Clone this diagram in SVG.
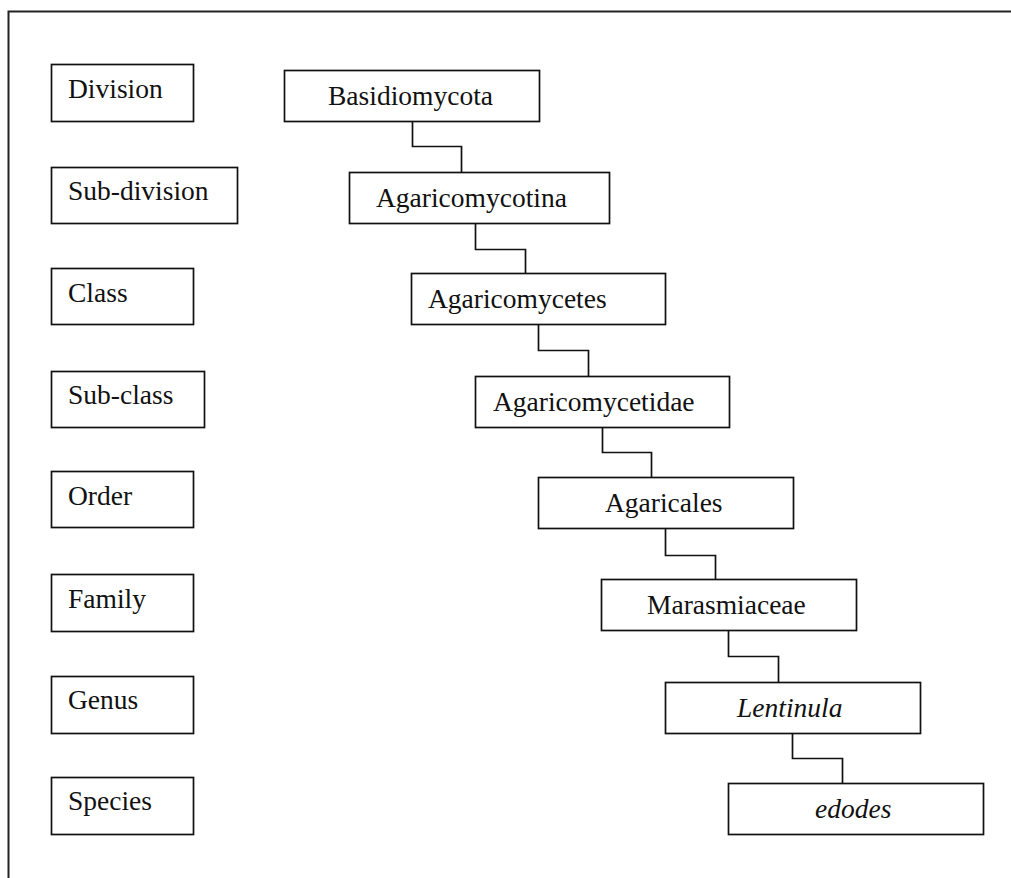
<svg xmlns="http://www.w3.org/2000/svg" width="1011" height="878" viewBox="0 0 1011 878">
<style>
.box{fill:#fff;stroke:#111;stroke-width:1.7}
.lbl{font-family:"Liberation Serif","Times New Roman",serif;font-size:27.5px;fill:#111}
.it{font-style:italic}
.con{fill:none;stroke:#111;stroke-width:1.7}
</style>
<rect x="0" y="0" width="1011" height="878" fill="#fff"/>
<path d="M8.5,878 V11.5 H1011" fill="none" stroke="#222" stroke-width="2"/>
<g id="ranks">
<g id="rank-division"><rect class="box" x="51.5" y="64.5" width="142" height="57"/><text class="lbl" x="68" y="98">Division</text></g>
<g id="rank-subdivision"><rect class="box" x="51.5" y="167.5" width="186" height="56"/><text class="lbl" x="68" y="200">Sub-division</text></g>
<g id="rank-class"><rect class="box" x="51.5" y="268.5" width="142" height="56"/><text class="lbl" x="68" y="302">Class</text></g>
<g id="rank-subclass"><rect class="box" x="51.5" y="371.5" width="153" height="56"/><text class="lbl" x="68" y="404">Sub-class</text></g>
<g id="rank-order"><rect class="box" x="51.5" y="471.5" width="142" height="56"/><text class="lbl" x="68" y="505">Order</text></g>
<g id="rank-family"><rect class="box" x="51.5" y="574.5" width="142" height="57"/><text class="lbl" x="68" y="608">Family</text></g>
<g id="rank-genus"><rect class="box" x="51.5" y="676.5" width="142" height="57"/><text class="lbl" x="68" y="709">Genus</text></g>
<g id="rank-species"><rect class="box" x="51.5" y="777.5" width="142" height="57"/><text class="lbl" x="68" y="810">Species</text></g>
</g>
<g id="connectors">
<path class="con" d="M412.5,121.5 V146.5 H461.5 V172.5"/>
<path class="con" d="M475.5,223.5 V249.5 H525.5 V273.5"/>
<path class="con" d="M538.5,324.5 V350.5 H588.5 V376.5"/>
<path class="con" d="M602.5,427.5 V452.5 H651.5 V477.5"/>
<path class="con" d="M665.5,528.5 V555.5 H715.5 V579.5"/>
<path class="con" d="M728.5,630.5 V656.5 H778.5 V682.5"/>
<path class="con" d="M792.5,733.5 V758.5 H842.5 V783.5"/>
</g>
<g id="taxa">
<g id="taxon-basidiomycota"><rect class="box" x="284.5" y="70.5" width="255" height="51"/><text class="lbl" x="328" y="105">Basidiomycota</text></g>
<g id="taxon-agaricomycotina"><rect class="box" x="349.5" y="172.5" width="260" height="51"/><text class="lbl" x="376" y="207">Agaricomycotina</text></g>
<g id="taxon-agaricomycetes"><rect class="box" x="411.5" y="273.5" width="254" height="51"/><text class="lbl" x="428" y="308">Agaricomycetes</text></g>
<g id="taxon-agaricomycetidae"><rect class="box" x="475.5" y="376.5" width="254" height="51"/><text class="lbl" x="493" y="411">Agaricomycetidae</text></g>
<g id="taxon-agaricales"><rect class="box" x="538.5" y="477.5" width="255" height="51"/><text class="lbl" x="605" y="512">Agaricales</text></g>
<g id="taxon-marasmiaceae"><rect class="box" x="601.5" y="579.5" width="255" height="51"/><text class="lbl" x="647" y="614">Marasmiaceae</text></g>
<g id="taxon-lentinula"><rect class="box" x="665.5" y="682.5" width="255" height="51"/><text class="lbl it" x="737" y="717">Lentinula</text></g>
<g id="taxon-edodes"><rect class="box" x="728.5" y="783.5" width="255" height="51"/><text class="lbl it" x="815" y="818">edodes</text></g>
</g>
</svg>
